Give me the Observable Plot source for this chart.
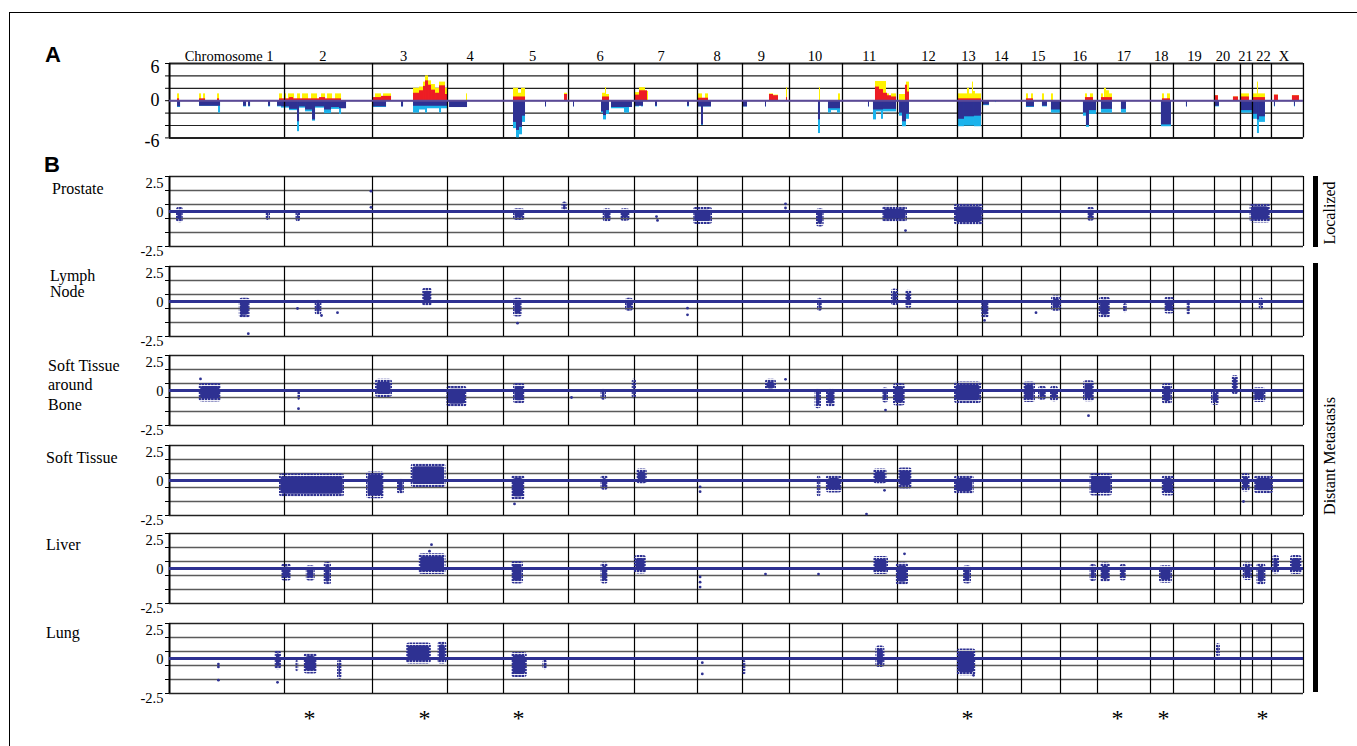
<!DOCTYPE html>
<html><head><meta charset="utf-8">
<script src="https://cdn.jsdelivr.net/npm/d3@7"></script>
<script src="https://cdn.jsdelivr.net/npm/@observablehq/plot@0.6"></script>
<style>
html,body{margin:0;padding:0;background:#fff;}
#wrap{position:relative;width:1357px;height:746px;overflow:hidden;background:#fff;font-family:"Liberation Serif","Times New Roman",serif;color:#000;}
.frame{position:absolute;left:9px;top:12px;width:1500px;height:900px;border-left:1.5px solid #000;border-top:1.5px solid #000;}
.lab{position:absolute;line-height:1;white-space:nowrap;transform:translateY(-50%);}
.rot{position:absolute;line-height:1;white-space:nowrap;transform:translate(-50%,-50%) rotate(-90deg);}
.bar{position:absolute;background:#000;}
svg{overflow:visible;}
</style></head>
<body>
<svg width="0" height="0" style="position:absolute">
  <defs>
    <pattern id="speck" width="3.2" height="3" patternUnits="userSpaceOnUse">
      <rect x="0" y="0" width="2.6" height="2.1" fill="#2e3192"/>
    </pattern>
  </defs>
</svg>
<div id="wrap"><div class="frame"></div></div>
<script>
// ---------------- DATA ----------------
// genome axis: clone order along the array (chromosome 1 .. X)
const chromNames = ["Chromosome 1","2","3","4","5","6","7","8","9","10","11","12","13","14","15","16","17","18","19","20","21","22","X"];
const chromStarts = [0,115,203,278,334,399,465,528,573,620,673,728,788,813,852,891,928,981,1004,1045,1071,1083,1102];
const genomeEnd = 1134;
const chromLabelPos = [59.6,153.3,234,300.6,363,430.5,491.7,547.7,592,645.6,699.7,759,798.9,831.8,868.7,910.2,954.4,991.8,1025,1053.6,1076,1094,1114.5];

// Panel A: frequency of gains / losses  [start, end, value]
const gridA = [6,4,2,0,-2,-4,-6];
const labelsA = [{v:6,t:"6"},{v:0,t:"0"},{v:-6,t:"-6"}];
const gainYellow = [
 [8,10,1.1],[30,32,1.1],[34,36,1.1],[48,50,1.1],
 [110,113,1.1],[115,117,1.1],[119,125,1.1],[128,131,1.1],[133,139,1.1],[142,148,1.1],[152,156,1.1],[158,163,1.1],[166,172,1.1],
 [203,204,2.0],[206,212,1.1],[214,222,1.1],[244,250,2.0],[250,254,2.2],[254,256,3.0],[256,259,4.0],[259,262,3.2],[262,266,2.6],[266,270,2.0],[270,276,3.0],[276,278,2.0],[297,298,1.1],
 [344,349,2.0],[349,352,1.2],[352,356,2.0],[395,398,1.2],
 [433,436,1.2],[436,437,2.1],[437,440,1.0],
 [465,470,1.3],[470,476,2.1],[476,479,1.5],
 [529,533,1.1],[536,539,1.1],
 [600,604,1.1],[604,609,0.9],[617,618,2.1],
 [650,651,2.1],[669,671,1.1],
 [706,710,3.1],[710,717,3.1],[717,720,1.1],[722,727,1.1],
 [730,736,1.0],[736,737,2.0],[737,740,3.0],
 [788,798,1.1],[798,800,2.0],[800,803,1.1],[803,804,3.0],[804,806,1.5],[806,812,1.1],
 [857,859,1.1],[862,864,1.1],[873,875,1.1],[882,884,1.1],
 [916,918,1.1],[921,924,1.1],
 [932,934,1.1],[935,937,2.0],[937,940,1.6],[940,943,1.1],
 [993,995,1.1],[998,1001,1.1],
 [1045,1049,0.8],[1064,1069,0.6],
 [1071,1080,1.1],
 [1084,1088,1.1],[1088,1089,3.0],[1089,1096,1.1],
 [1105,1109,0.9],[1123,1130,0.8]
];
const gainRed = [
 [8,10,0.3],[30,36,0.3],[48,50,0.3],
 [110,172,0.3],[120,124,0.5],[150,156,0.5],
 [204,212,0.5],[212,222,0.7],[244,250,1.2],[250,254,1.6],[254,256,2.3],[256,259,3.2],[259,262,2.5],[262,266,1.7],[266,270,1.2],[270,276,2.4],[276,278,1.0],
 [344,356,0.6],[395,398,1.0],
 [433,440,0.6],
 [465,470,0.9],[470,478,1.6],
 [529,539,0.4],
 [600,604,1.0],[604,609,0.8],[617,618,0.5],
 [706,710,2.2],[710,714,1.8],[714,718,1.2],[718,722,0.8],[722,727,0.6],
 [736,738,2.5],[738,740,1.4],
 [788,812,0.3],
 [857,864,0.3],
 [916,924,0.5],
 [932,943,0.5],
 [993,1001,0.3],
 [1045,1049,0.8],[1064,1069,0.6],
 [1071,1080,0.6],
 [1084,1096,0.5],
 [1105,1109,0.9],[1123,1130,0.8]
];
const lossLight = [
 [8,11,-1.1],[30,49,-0.9],[49,51,-2.0],[74,77,-1.0],[79,81,-1.0],[99,101,-1.0],[108,112,-1.0],
 [112,120,-1.2],[120,128,-1.6],[128,130,-5.0],[130,136,-1.2],[136,143,-1.8],[143,146,-3.3],[146,155,-1.2],[155,162,-2.1],[162,170,-1.4],[170,172,-2.2],[172,177,-1.2],
 [203,217,-1.1],[232,234,-1.0],[244,250,-2.0],[250,256,-1.5],[256,258,-2.0],[258,270,-1.3],[270,272,-2.0],[272,278,-1.3],
 [280,298,-1.1],
 [344,347,-4.5],[347,350,-6.0],[350,353,-5.5],[353,356,-3.5],[376,377,-1.0],
 [404,405,-1.0],[432,434,-2.0],[434,437,-3.1],[437,440,-2.2],[442,455,-1.3],[455,460,-2.0],[460,463,-1.0],
 [466,470,-1.0],[472,474,-1.0],[486,488,-1.0],[518,520,-1.0],
 [529,532,-1.0],[532,534,-4.0],[534,542,-1.0],
 [574,578,-1.0],[596,597,-1.0],
 [649,651,-5.3],[659,662,-2.0],[662,668,-1.6],[668,671,-2.0],
 [699,700,-1.0],[704,707,-3.1],[707,712,-1.8],[712,714,-3.0],[714,727,-1.8],
 [730,733,-2.5],[733,737,-4.2],[737,740,-3.0],
 [788,795,-4.2],[795,805,-4.1],[805,812,-4.2],
 [813,820,-0.8],[826,827,-0.3],
 [857,865,-1.1],[873,878,-1.0],[882,891,-2.0],
 [914,917,-2.5],[917,920,-4.3],[920,927,-2.2],
 [932,943,-2.0],[952,957,-2.0],
 [992,1002,-4.2],
 [1017,1018,-1.0],
 [1045,1050,-1.0],
 [1071,1083,-2.0],
 [1083,1088,-3.0],[1088,1090,-5.3],[1090,1096,-3.5],
 [1105,1106,-1.0],[1125,1126,-1.0]
];
const lossDark = [
 [8,11,-1.0],[30,51,-0.9],[74,77,-0.9],[79,81,-0.9],[99,101,-0.9],[108,112,-0.9],
 [112,120,-1.0],[120,128,-1.4],[128,130,-3.4],[130,136,-1.0],[136,143,-1.5],[143,146,-3.1],[146,155,-1.0],[155,162,-1.5],[162,170,-1.1],[170,177,-1.3],
 [203,217,-1.0],[232,234,-1.0],[244,278,-0.9],
 [280,298,-1.1],
 [344,347,-3.5],[347,350,-4.8],[350,353,-4.3],[353,356,-2.5],[376,377,-1.0],
 [404,405,-1.0],[432,434,-1.8],[434,437,-2.4],[437,440,-1.6],[442,463,-1.1],
 [466,474,-0.9],[486,488,-0.9],[518,520,-0.9],
 [529,532,-1.0],[532,534,-3.9],[534,542,-1.0],
 [574,578,-1.0],[596,597,-1.0],
 [649,651,-3.1],[659,671,-1.3],
 [699,700,-1.0],[704,714,-1.5],[714,727,-1.4],
 [730,733,-2.0],[733,737,-3.4],[737,740,-2.2],
 [788,795,-3.0],[795,805,-2.6],[805,812,-2.5],
 [813,820,-0.7],
 [857,865,-1.0],[873,878,-0.9],[882,891,-1.5],
 [914,917,-2.0],[917,920,-4.0],[920,927,-1.6],
 [932,943,-1.4],[952,957,-1.4],
 [992,1002,-3.9],
 [1017,1018,-1.0],
 [1045,1050,-0.9],
 [1071,1083,-1.6],
 [1083,1088,-2.2],[1088,1090,-3.1],[1090,1096,-2.6],
 [1105,1106,-0.9],[1125,1126,-0.9]
];

// Panel B: log2 ratio clusters per tissue  [start, end, low, high] and single clones [pos, value]
const gridB = [2.5,1.5,0.5,-0.5,-1.5,-2.5];
const labelsB = [{v:2.5,t:"2.5"},{v:0,t:"0"},{v:-2.5,t:"-2.5"}];
const tissues = ["Prostate","Lymph Node","Soft Tissue around Bone","Soft Tissue","Liver","Lung"];
const prostateClusters = [[7,14,-0.8,0.3],[96.6,101,-0.65,0.07],[126.5,131,-0.75,0.05],[344,355.5,-0.65,0.2],[392.6,398,-0.1,0.67],[433.7,442,-0.75,0.2],[451,460.5,-0.7,0.2],[524,543,-0.93,0.3],[647,654.6,-1.1,0.2],[713,738,-0.76,0.38],[785,814,-1.0,0.55],[918,925,-0.7,0.3],[1080.6,1101,-0.83,0.55]];
const prostateDots = [[201.5,1.45],[201.5,0.3],[241,0],[487,-0.36],[488,-0.64],[566,0],[616,0.55],[616,0.25],[736,-1.36],[823,0],[943,0]];
const lymphClusters = [[69.8,81,-1.2,0.24],[145.7,152.4,-1.0,0.1],[253,263,-0.36,0.95],[344,353,-1.1,0.24],[456,464,-0.7,0.24],[648,653,-0.7,0.24],[722,729,-0.3,0.9],[736,742.5,-0.5,0.8],[812,820,-1.2,0.1],[882,892,-0.7,0.4],[929.6,941,-1.2,0.3],[954,958,-0.8,-0.15],[995,1005,-0.9,0.3],[1017.5,1021,-1.0,0.1],[1089.7,1094,-0.6,0.25]];
const lymphDots = [[78.8,-2.3],[72,-1.0],[128,-0.5],[152,-1.0],[168,-0.8],[241,0],[348,-1.55],[471,0],[518,-0.48],[518,-0.95],[594,0],[815,-1.35],[827,0],[866.5,-0.8],[1071,0]];
const softBoneClusters = [[29.7,52,-0.83,0.5],[128,131,-0.7,-0.05],[206,223,-0.5,0.8],[277.4,297.5,-1.2,0.3],[344,355.6,-0.95,0.5],[431.5,437,-0.7,0.1],[462.7,467,-0.6,0.83],[596,607,-0.1,0.8],[645.6,652,-1.3,0.1],[657,666,-1.2,0.1],[713,719,-0.9,0.2],[724,735.7,-1.1,0.5],[785,812,-0.95,0.6],[854,866,-0.85,0.6],[869,877,-0.7,0.3],[881,889,-0.8,0.3],[914,925,-0.8,0.7],[993,1003,-1.0,0.5],[1042,1050,-1.07,0.0],[1062.6,1069,-0.3,1.07],[1084,1096.4,-0.85,0.2]];
const softBoneDots = [[31,0.83],[129,-1.3],[402,-0.5],[616,0.8],[716,-1.4],[919,-1.8],[827,0],[950,0],[577,0]];
const softClusters = [[110,175,-1.2,0.48],[197,215,-1.3,0.6],[228,235,-1.0,0.1],[241.7,276.5,-0.5,1.2],[342,355.6,-1.4,0.36],[431.5,439,-0.7,0.36],[467,478,-0.24,0.83],[647.8,651.4,-1.2,0.36],[656.8,672.6,-0.9,0.36],[704,717.7,-0.24,0.83],[729,743,-0.6,0.9],[785,804.7,-1.0,0.36],[920.6,943,-1.1,0.5],[992.7,1005,-1.1,0.36],[1072.5,1080.6,-0.83,0.5],[1085,1104,-0.95,0.36]];
const softDots = [[345,-1.67],[530.6,-0.45],[530.6,-0.8],[697,-2.4],[715,-0.7],[1074,-1.5],[611,0],[832,0],[952,0]];
const liverClusters = [[112,122,-0.9,0.33],[136.8,145.7,-0.9,0.2],[154.7,162,-1.2,0.45],[249.7,276.5,-0.43,1.05],[342,354,-1.1,0.5],[431.5,439,-1.1,0.4],[465,477,-0.4,0.93],[704,719,-0.43,0.86],[726.7,739,-1.2,0.4],[794,802,-1.1,0.2],[920.6,927,-0.95,0.3],[931,941,-1.0,0.4],[950.6,957,-0.9,0.3],[990,1003,-1.05,0.2],[1073.8,1083,-0.85,0.4],[1087.4,1096.4,-1.2,0.35],[1103,1110,-0.4,0.93],[1121,1132.5,-0.43,0.93]];
const liverDots = [[262,1.7],[260,1.24],[530.6,-0.6],[530.6,-0.98],[530.6,-1.33],[596,-0.4],[649,-0.4],[235,0],[735,1.05]];
const lungClusters = [[105.5,112,-0.8,0.55],[126.5,129.2,-1.0,-0.1],[134.6,148,-1.1,0.36],[168,172.5,-1.5,-0.1],[237,261.8,-0.4,1.1],[268.5,277.4,-0.4,1.2],[342,357.8,-1.36,0.43],[373.4,378,-0.8,-0.1],[573.4,576.6,-1.2,-0.15],[706.4,715.4,-0.64,0.9],[787.6,806.5,-1.24,0.67],[1047,1051,0.1,1.07]];
const lungDots = [[48.9,-0.4],[48.9,-0.6],[48.9,-1.55],[108,-1.7],[476,0],[530,0],[532.8,-0.3],[532.8,-1.1],[594,0],[832,0],[951,0],[1070,0],[804,-1.2]];
const asteriskPos = [140,255,349,798,948,994,1093];
const groups = [{name:"Localized", rows:[0]},{name:"Distant Metastasis", rows:[1,5]}];

// ---------------- LAYOUT / STYLE ----------------
const W = 1357, ML = 169, MR = 54;
const SERIF = "'Liberation Serif','Times New Roman',serif";
const BLUE = "#2e3192";
const wrap = document.getElementById("wrap");
const bounds = [...chromStarts, genomeEnd];

function place(svg, top) {
  svg.style.position = "absolute";
  svg.style.left = "0px";
  svg.style.top = top + "px";
  wrap.appendChild(svg);
}
function html(cls, text, css) {
  const d = document.createElement("div");
  d.className = cls;
  d.textContent = text;
  Object.assign(d.style, css);
  wrap.appendChild(d);
  return d;
}

// ---- Panel A ----
const aTop = 63.3, aH = 74.4, aMT = 25, aMB = 20;
const rectOpts = (fill) => ({x1: d => d[0], x2: d => d[1], y1: () => 0, y2: d => d[2], fill});
const plotA = Plot.plot({
  width: W, height: aH + aMT + aMB,
  marginLeft: ML, marginRight: MR, marginTop: aMT, marginBottom: aMB,
  x: {domain: [0, genomeEnd], axis: null},
  y: {domain: [-6, 6], axis: null},
  style: {background: "transparent", overflow: "visible", fontFamily: SERIF, color: "#000"},
  marks: [
    Plot.ruleY(gridA, {stroke: "#222", strokeWidth: d => (Math.abs(d) === 6 ? 2 : 1.2)}),
    Plot.rect(gainYellow, rectOpts("#fff200")),
    Plot.rect(lossLight, rectOpts("#1bb3ec")),
    Plot.rect(gainRed, rectOpts("#ed1c24")),
    Plot.rect(lossDark, rectOpts(BLUE)),
    Plot.ruleX(bounds, {stroke: "#000", strokeWidth: d => (d === 0 ? 2 : 1.3)}),
    Plot.ruleY([0], {stroke: "#5b4a98", strokeWidth: 2}),
    Plot.axisY({ticks: gridA, tickSize: 4, tickFormat: () => "", label: null, stroke: "#000"}),
    Plot.text(chromNames, {x: (d, i) => chromLabelPos[i], y: () => 6, text: d => d, dy: -7.5, fontSize: 14.5, fill: "#000"}),
    ...labelsA.map(l => Plot.text([l], {x: () => 0, y: d => d.v, text: d => d.t, textAnchor: "end", dx: -10, dy: l.v > 0 ? 4 : l.v < 0 ? 3 : 0, fontSize: 18, fill: "#000"}))
  ]
});
place(plotA, aTop - aMT);

// ---- Panel B rows ----
const rowTops = [176, 265.5, 354.5, 444.8, 533.4, 623];
const rowH = 70, bMT = 8;
const rowData = [
  [prostateClusters, prostateDots],
  [lymphClusters, lymphDots],
  [softBoneClusters, softBoneDots],
  [softClusters, softDots],
  [liverClusters, liverDots],
  [lungClusters, lungDots]
];
rowData.forEach(([clusters, dots], r) => {
  const last = r === rowData.length - 1;
  const bMB = last ? 40 : 14;
  const marks = [
    Plot.ruleY(gridB, {stroke: d => (Math.abs(d) === 2.5 ? "#222" : "#5a5a5a"), strokeWidth: 1.4}),
    Plot.ruleX(bounds, {stroke: "#000", strokeWidth: d => (d === 0 ? 2 : 1.2)}),
    Plot.ruleY([0], {stroke: BLUE, strokeWidth: 3.2}),
    // speckled outer envelope of each cluster of clones
    Plot.rect(clusters, {x1: d => d[0], x2: d => d[1], y1: d => d[2], y2: d => d[3], fill: "url(#speck)", rx: 3}),
    // dense core of the cluster
    Plot.rect(clusters, {x1: d => d[0], x2: d => d[1], y1: d => d[2], y2: d => d[3], fill: BLUE, rx: 3, insetLeft: 1.5, insetRight: 1.5, insetTop: 3, insetBottom: 3}),
    Plot.dot(dots, {x: d => d[0], y: d => d[1], r: 1.4, fill: BLUE, stroke: "none"}),
    Plot.axisY({ticks: gridB, tickSize: 4, tickFormat: () => "", label: null, stroke: "#000"}),
    ...labelsB.map(l => Plot.text([l], {x: () => 0, y: d => d.v, text: d => d.t, textAnchor: "end", dx: -6, dy: l.v > 0 ? 6.5 : l.v < 0 ? 5 : 0.5, fontSize: 14.5, fill: "#000"}))
  ];
  if (last) marks.push(Plot.text(asteriskPos, {x: d => d, y: () => -2.5, text: () => "*", dy: 25, fontSize: 24, fill: "#000"}));
  const p = Plot.plot({
    width: W, height: rowH + bMT + bMB,
    marginLeft: ML, marginRight: MR, marginTop: bMT, marginBottom: bMB,
    x: {domain: [0, genomeEnd], axis: null},
    y: {domain: [-2.5, 2.5], axis: null},
    style: {background: "transparent", overflow: "visible", fontFamily: SERIF, color: "#000"},
    marks
  });
  place(p, rowTops[r] - bMT);
});

// ---- text labels ----
const sans = "'Liberation Sans',Arial,sans-serif";
html("lab", "A", {left: "45px", top: "55px", fontFamily: sans, fontWeight: "bold", fontSize: "22px"});
html("lab", "B", {left: "44px", top: "165px", fontFamily: sans, fontWeight: "bold", fontSize: "22px"});
const rowLabelLines = [
  [{t: "Prostate", x: 52, y: 189}],
  [{t: "Lymph", x: 50, y: 275.5}, {t: "Node", x: 50, y: 291.5}],
  [{t: "Soft Tissue", x: 48, y: 365.5}, {t: "around", x: 48, y: 385}, {t: "Bone", x: 48, y: 404.5}],
  [{t: "Soft Tissue", x: 46, y: 457.5}],
  [{t: "Liver", x: 46, y: 545}],
  [{t: "Lung", x: 46, y: 633}]
];
rowLabelLines.flat().forEach(l => html("lab", l.t, {left: l.x + "px", top: l.y + "px", fontSize: "16px"}));

// group bars + rotated labels
const groupBars = [{top: 176, bottom: 247}, {top: 263, bottom: 692}];
groups.forEach((g, i) => {
  const b = groupBars[i];
  const bar = document.createElement("div");
  bar.className = "bar";
  Object.assign(bar.style, {left: "1313px", width: "4.5px", top: b.top + "px", height: (b.bottom - b.top) + "px"});
  wrap.appendChild(bar);
  html("rot", g.name, {left: "1330px", top: (i === 0 ? 213 : 456) + "px", fontSize: "16px"});
});
</script>
</body></html>
